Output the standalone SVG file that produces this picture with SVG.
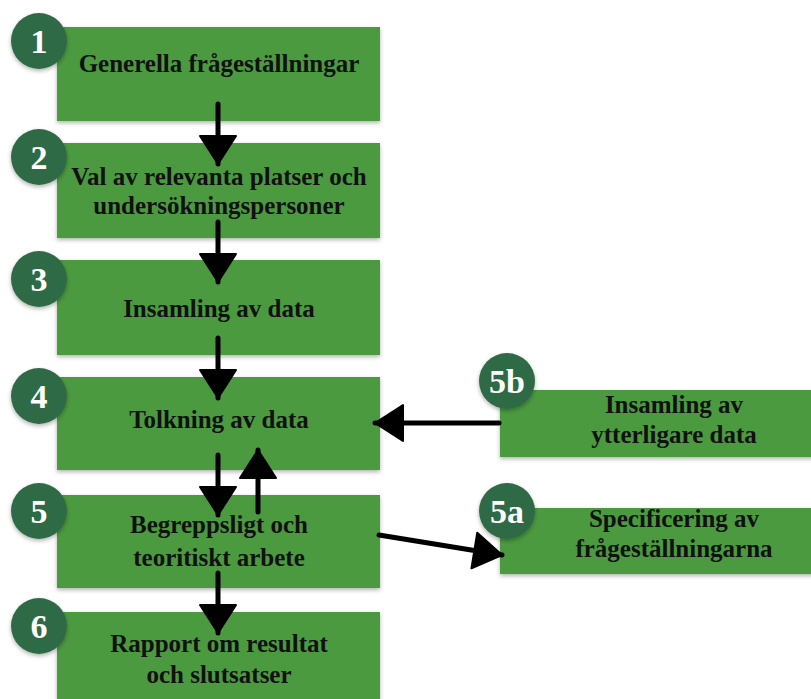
<svg xmlns="http://www.w3.org/2000/svg" width="811" height="699" viewBox="0 0 811 699">
<defs>
<filter id="sh" x="-10%" y="-10%" width="120%" height="130%"><feDropShadow dx="0" dy="2" stdDeviation="2" flood-color="#000" flood-opacity="0.3"/></filter>
<marker id="ah" markerUnits="userSpaceOnUse" markerWidth="40" markerHeight="40" viewBox="0 0 40 40" refX="30" refY="20" orient="auto"><path d="M2,2 L30,20 L2,38 Z" fill="#000" stroke="#000" stroke-width="2" stroke-linejoin="round"/></marker>
</defs>
<style>
.box{fill:#4c9a3f;filter:url(#sh)}
.num{fill:#2f6a44;filter:url(#sh)}
.t{font-family:"Liberation Serif","Times New Roman",serif;font-weight:bold;font-size:25px;fill:#111;text-anchor:middle}
.n{font-family:"Liberation Serif","Times New Roman",serif;font-weight:bold;font-size:34px;fill:#fff;text-anchor:middle}
.c{stroke:#000;stroke-width:5;fill:none;stroke-linecap:round;marker-end:url(#ah)}
</style>
<rect width="811" height="699" fill="#fff"/>
<g id="n1"><rect class="box" x="57" y="27" width="323" height="94"/><circle class="num" cx="39" cy="41" r="28"/><text class="n" x="39" y="53">1</text><text class="t" x="219" y="72">Generella frågeställningar</text></g>
<g id="n2"><rect class="box" x="57" y="143" width="323" height="95"/><circle class="num" cx="39" cy="157" r="28"/><text class="n" x="39" y="169">2</text><text class="t" x="219" y="185">Val av relevanta platser och</text><text class="t" x="219" y="214">undersökningspersoner</text></g>
<g id="n3"><rect class="box" x="57" y="260" width="323" height="95"/><circle class="num" cx="39" cy="279" r="28"/><text class="n" x="39" y="291">3</text><text class="t" x="219" y="317">Insamling av data</text></g>
<g id="n4"><rect class="box" x="57" y="377" width="323" height="93"/><circle class="num" cx="39" cy="396" r="28"/><text class="n" x="39" y="408">4</text><text class="t" x="219" y="428">Tolkning av data</text></g>
<g id="n5"><rect class="box" x="57" y="495" width="323" height="93"/><circle class="num" cx="39" cy="511" r="28"/><text class="n" x="39" y="523">5</text><text class="t" x="219" y="533">Begreppsligt och</text><text class="t" x="219" y="566">teoritiskt arbete</text></g>
<g id="n6"><rect class="box" x="57" y="612" width="323" height="95"/><circle class="num" cx="39" cy="626" r="28"/><text class="n" x="39" y="638">6</text><text class="t" x="219" y="652">Rapport om resultat</text><text class="t" x="219" y="683">och slutsatser</text></g>
<g id="n5b"><rect class="box" x="500" y="390" width="320" height="67"/><circle class="num" cx="507" cy="381" r="28"/><text class="n" x="507" y="393">5b</text><text class="t" x="674" y="413">Insamling av</text><text class="t" x="674" y="443">ytterligare data</text></g>
<g id="n5a"><rect class="box" x="500" y="508" width="320" height="66"/><circle class="num" cx="507" cy="511" r="28"/><text class="n" x="507" y="523">5a</text><text class="t" x="674" y="527">Specificering av</text><text class="t" x="674" y="557">frågeställningarna</text></g>
<g id="connectors">
<path class="c" d="M218,104 L218,164"/>
<path class="c" d="M218,222 L218,282"/>
<path class="c" d="M218,338 L218,398"/>
<path class="c" d="M218,455 L218,515"/>
<path class="c" d="M258,512 L258,450"/>
<path class="c" d="M218,573 L218,633"/>
<path class="c" d="M499,423 L375,423"/>
<path class="c" d="M379,535 L502,555"/>
</g>
</svg>
